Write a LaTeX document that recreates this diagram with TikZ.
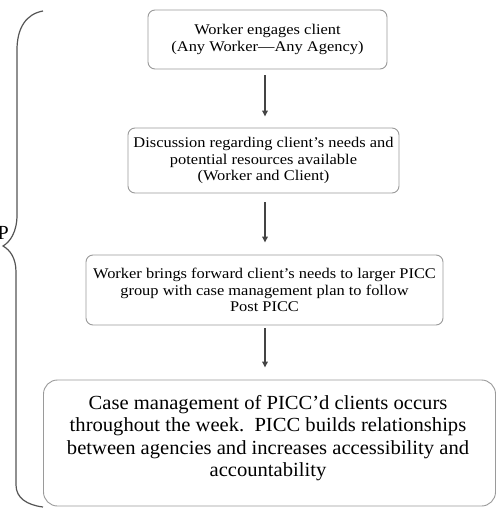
\documentclass[tikz,border=0pt]{standalone}
\usepackage{fontspec}
\setmainfont{Liberation Serif}
\newfontfamily\smallf[FakeStretch=1.11,Ligatures=TeX]{Liberation Serif}
\newfontfamily\bigf[FakeStretch=1.03,Ligatures=TeX]{Liberation Serif}
\usetikzlibrary{arrows.meta,calc}
\definecolor{boxgray}{HTML}{9A9A9A}
\definecolor{arrgray}{HTML}{444444}
\definecolor{bracegray}{HTML}{555555}
\begin{document}
\begin{tikzpicture}[x=1pt,y=-1pt,
  flowbox/.style={draw=boxgray, line width=0.9pt, rounded corners=7pt, align=center, inner sep=0pt,
    font=\smallf\fontsize{14.8}{16.5}\selectfont, text=black},
  bigbox/.style={draw=boxgray, line width=0.9pt, rounded corners=14pt, inner sep=0pt},
  bigtext/.style={align=center, inner sep=0pt, font=\bigf\fontsize{20}{22.5}\selectfont, text=black},
  flowarrow/.style={draw=arrgray, line width=1.6pt, -{Triangle[length=6pt,width=5.5pt]}},
  bracestyle/.style={draw=bracegray, line width=1.2pt}
]
\useasboundingbox (0,0) rectangle (497,508);
\fill[white] (0,0) rectangle (497,508);

\node[flowbox, minimum width=239pt, minimum height=59pt] (b1) at (267.5,39.5)
  {Worker engages client\\(Any Worker—Any Agency)};
\node[flowbox, minimum width=271pt, minimum height=65pt] (b2) at (263.5,160.5)
  {Discussion regarding client’s needs and\\potential resources available\\(Worker and Client)};
\node[flowbox, minimum width=357pt, minimum height=70pt] (b3) at (264.5,290)
  {Worker brings forward client’s needs to larger PICC\\group with case management plan to follow\\Post PICC};
\node[bigbox, minimum width=452pt, minimum height=126pt] (b4) at (269.5,443) {};
\node[bigtext] (t4) at (268,438)
  {Case management of PICC’d clients occurs\\throughout the week.\ \ PICC builds relationships\\between agencies and increases accessibility and\\accountability};

\coordinate (ax) at (265,0);
\draw[flowarrow, shorten <=6pt, shorten >=11pt] (b1.south -| ax) -- (b2.north -| ax);
\draw[flowarrow, shorten <=9pt, shorten >=12pt] (b2.south -| ax) -- (b3.north -| ax);
\draw[flowarrow, shorten <=3pt, shorten >=12pt] (b3.south -| ax) -- (b4.north -| ax);

\draw[bracestyle] (43,11) .. controls (26,14) and (17,28) .. (17,50) -- (17,215)
  .. controls (17,232) and (10,242) .. (3,246)
  .. controls (10,250) and (16,258) .. (16,272) -- (16,485)
  .. controls (16,498) and (27,505) .. (43,507);

\begin{scope}
\clip (0,0) rectangle (497,508);
\node[font=\fontsize{20}{22}\selectfont, anchor=base east, inner sep=0pt] (pl) at (9,239) {P};
\end{scope}
\end{tikzpicture}
\end{document}
